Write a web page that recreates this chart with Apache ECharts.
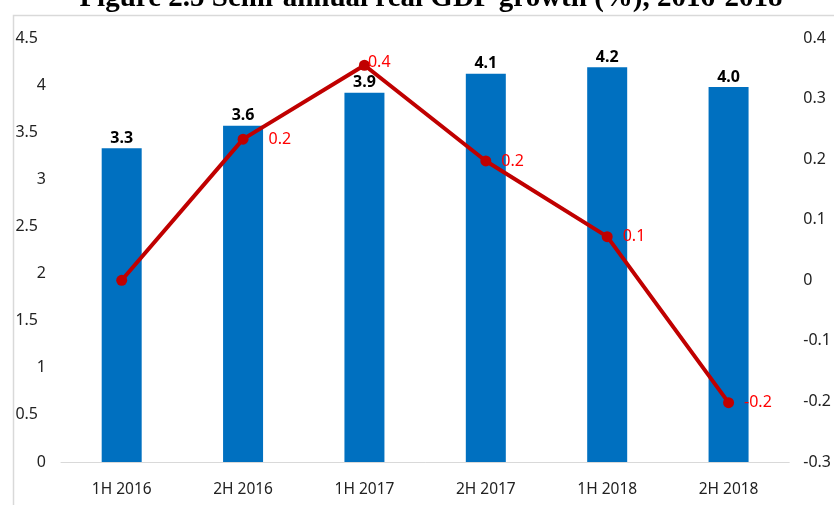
<!DOCTYPE html>
<html>
<head>
<meta charset="utf-8">
<script src="https://cdn.jsdelivr.net/npm/echarts@6/dist/echarts.min.js"></script>
<style>html,body{margin:0;padding:0;background:#fff;overflow:hidden;}#c{width:834px;height:505px;}</style>
</head>
<body>
<div id="c"></div>
<script>
const titleText = 'Figure 2.5 Semi-annual real GDP growth (%), 2016-2018';
const categories = ['1H 2016', '2H 2016', '1H 2017', '2H 2017', '1H 2018', '2H 2018'];
const gdpGrowth = [3.33, 3.57, 3.92, 4.12, 4.19, 3.98];
const changeValues = [0.00, 0.233, 0.355, 0.197, 0.072, -0.202];
const leftTicks = ['0', '0.5', '1', '1.5', '2', '2.5', '3', '3.5', '4', '4.5'];
const rightTicks = ['-0.3', '-0.2', '-0.1', '0', '0.1', '0.2', '0.3', '0.4'];

const FONT = "'Noto Sans', sans-serif";
const chart = echarts.init(document.getElementById('c'), null, {renderer: 'canvas', width: 834, height: 505});

const lineLabelTweaks = [
  {show: false},
  {offset: [10, 0]},
  {offset: [-12, -3]},
  {},
  {},
  {}
];

const option = {
  animation: false,
  backgroundColor: '#ffffff',
  graphic: [
    {type: 'rect', left: 11, top: 13, z: 0, shape: {width: 900, height: 600},
     style: {fill: 'none', stroke: '#D9D9D9', lineWidth: 1.5}},
    {type: 'text', x: 431, y: -1, z: 10,
     style: {text: titleText, align: 'center', verticalAlign: 'middle',
             font: "bold 29px 'Liberation Serif', 'DejaVu Serif', serif", fill: '#000'}}
  ],
  grid: {left: 61, right: 33, top: 38, bottom: 43, containLabel: false},
  xAxis: {
    type: 'category',
    data: categories,
    axisTick: {show: false},
    axisLine: {lineStyle: {color: '#D9D9D9', width: 1}},
    axisLabel: {color: '#222', fontFamily: FONT, fontSize: 15.5, margin: 20}
  },
  yAxis: [
    {
      type: 'value', min: 0, max: 4.5, interval: 0.5,
      splitLine: {show: false}, axisLine: {show: false}, axisTick: {show: false},
      axisLabel: {
        margin: 15, color: '#222', fontFamily: FONT, fontSize: 16,
        formatter: function (v) {
          const t = leftTicks[Math.round(v / 0.5)];
          return t.indexOf('.') >= 0 ? '{d|' + t + '}' : '{i|' + t + '}';
        },
        rich: {
          d: {fontFamily: FONT, fontSize: 16, color: '#222', padding: [0, 8, 0, 0]},
          i: {fontFamily: FONT, fontSize: 16, color: '#222'}
        }
      }
    },
    {
      type: 'value', min: -0.3, max: 0.4, interval: 0.1,
      splitLine: {show: false}, axisLine: {show: false}, axisTick: {show: false},
      axisLabel: {
        margin: 14, color: '#222', fontFamily: FONT, fontSize: 16,
        formatter: function (v) {
          return rightTicks[Math.round((v + 0.3) / 0.1)];
        }
      }
    }
  ],
  series: [
    {
      type: 'bar',
      data: gdpGrowth,
      barWidth: 40,
      itemStyle: {color: '#0070C0'},
      label: {
        show: true, position: 'top', distance: 2,
        color: '#000', fontWeight: 'bold', fontFamily: FONT, fontSize: 16,
        formatter: function (p) { return p.value.toFixed(1); }
      },
      z: 2
    },
    {
      type: 'line',
      yAxisIndex: 1,
      data: changeValues.map(function (v, i) {
        return {value: v, label: lineLabelTweaks[i]};
      }),
      symbol: 'circle',
      symbolSize: 11,
      lineStyle: {color: '#C00000', width: 4},
      itemStyle: {color: '#C00000'},
      label: {
        show: true, position: 'right', distance: 10,
        color: '#FF0000', fontFamily: FONT, fontSize: 16,
        formatter: function (p) { return p.value.toFixed(1); }
      },
      z: 5
    }
  ]
};
chart.setOption(option);
</script>
</body>
</html>
